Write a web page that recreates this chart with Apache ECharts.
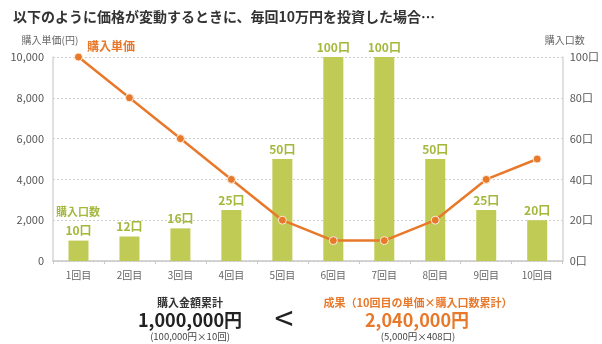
<!DOCTYPE html>
<html><head><meta charset="utf-8">
<script src="https://cdn.jsdelivr.net/npm/echarts@6/dist/echarts.min.js"></script>
<style>html,body{margin:0;padding:0;background:#fff}#c{width:602px;height:344px}</style>
</head><body><div id="c"></div>
<script>
const categories = ['1回目','2回目','3回目','4回目','5回目','6回目','7回目','8回目','9回目','10回目'];
const unitPrice = [10000, 8000, 6000, 4000, 2000, 1000, 1000, 2000, 4000, 5000];
const units = [10, 12, 16, 25, 50, 100, 100, 50, 25, 20];
const leftTicks = [0, 2000, 4000, 6000, 8000, 10000];
const rightTicks = [0, 20, 40, 60, 80, 100];

const FONT = '"Noto Sans CJK JP", sans-serif';
const GREEN = '#bfcb55';
const GREEN_TXT = '#a4b83c';
const ORANGE = '#e8792b';
const chart = echarts.init(document.getElementById('c'), null, {renderer:'canvas'});
chart.setOption({
  animation: false,
  textStyle: {fontFamily: FONT},
  title: {
    text: '以下のように価格が変動するときに、毎回10万円を投資した場合…',
    left: 8, top: 5,
    textStyle: {fontFamily: FONT, fontSize: 14, fontWeight: 'bold', color: '#333'}
  },
  grid: {left: 53, right: 39, top: 57, bottom: 83},
  xAxis: {
    type: 'category', data: categories,
    axisLine: {lineStyle: {color: '#c8c8c8', width: 1.5}},
    axisTick: {show: true, length: 3, lineStyle: {color: '#c8c8c8'}},
    axisLabel: {color: '#666', fontSize: 10, margin: 9, fontFamily: FONT}
  },
  yAxis: [{
    type: 'value', min: leftTicks[0], max: leftTicks[leftTicks.length - 1], interval: 2000,
    name: '購入単価(円)', nameGap: 12,
    nameTextStyle: {color: '#666', fontSize: 10, fontFamily: FONT, align: 'center', padding: [0,0,0,-6]},
    axisLine: {show: true, lineStyle: {color: '#d6d6d6', width: 1.5}},
    axisTick: {show: false},
    axisLabel: {color: '#555', fontSize: 11, margin: 9, fontFamily: FONT,
      formatter: v => v.toLocaleString('en-US')},
    splitLine: {lineStyle: {color: '#cfcfcf', type: [2, 2]}}
  }, {
    type: 'value', min: rightTicks[0], max: rightTicks[rightTicks.length - 1], interval: 20,
    name: '購入口数', nameGap: 12,
    nameTextStyle: {color: '#666', fontSize: 10, fontFamily: FONT, align: 'center', padding: [0,0,0,4]},
    axisLine: {show: true, lineStyle: {color: '#d6d6d6', width: 1.5}},
    axisTick: {show: false},
    axisLabel: {color: '#555', fontSize: 11, margin: 7, fontFamily: FONT, formatter: '{value}口'},
    splitLine: {show: false}
  }],
  series: [{
    type: 'bar', name: '購入口数', yAxisIndex: 1, data: units,
    barWidth: 20,
    itemStyle: {color: GREEN},
    label: {show: true, position: 'top', distance: 4, formatter: '{c}口',
      color: GREEN_TXT, fontSize: 12, fontWeight: 'bold', fontFamily: FONT}
  }, {
    type: 'line', name: '購入単価', yAxisIndex: 0, data: unitPrice,
    symbol: 'circle', symbolSize: 8,
    lineStyle: {color: ORANGE, width: 2.5},
    itemStyle: {color: ORANGE, borderColor: '#fbeede', borderWidth: 1}
  }],
  graphic: [
    {type: 'text', left: 87, top: 40, style: {text: '購入単価', fill: ORANGE, font: 'bold 12px ' + FONT}},
    {type: 'text', left: 56, top: 206, style: {text: '購入口数', fill: GREEN_TXT, font: 'bold 11px ' + FONT}},
    {type: 'text', x: 190, y: 303, style: {text: '購入金額累計', fill: '#333', font: 'bold 11px ' + FONT, align: 'center', verticalAlign: 'middle'}},
    {type: 'text', x: 190, y: 320, style: {text: '1,000,000円', fill: '#222', font: 'bold 18px ' + FONT, align: 'center', verticalAlign: 'middle'}},
    {type: 'text', x: 190, y: 336, style: {text: '(100,000円×10回)', fill: '#444', font: '9.5px ' + FONT, align: 'center', verticalAlign: 'middle'}},
    {type: 'text', x: 284, y: 318, style: {text: '<', fill: '#222', font: '34px ' + FONT, align: 'center', verticalAlign: 'middle'}},
    {type: 'text', x: 418, y: 303, style: {text: '成果（10回目の単価×購入口数累計）', fill: ORANGE, font: 'bold 11px ' + FONT, align: 'center', verticalAlign: 'middle'}},
    {type: 'text', x: 417, y: 320, style: {text: '2,040,000円', fill: ORANGE, font: 'bold 18px ' + FONT, align: 'center', verticalAlign: 'middle'}},
    {type: 'text', x: 418, y: 336, style: {text: '(5,000円×408口)', fill: '#444', font: '9.5px ' + FONT, align: 'center', verticalAlign: 'middle'}}
  ]
});
</script></body></html>
